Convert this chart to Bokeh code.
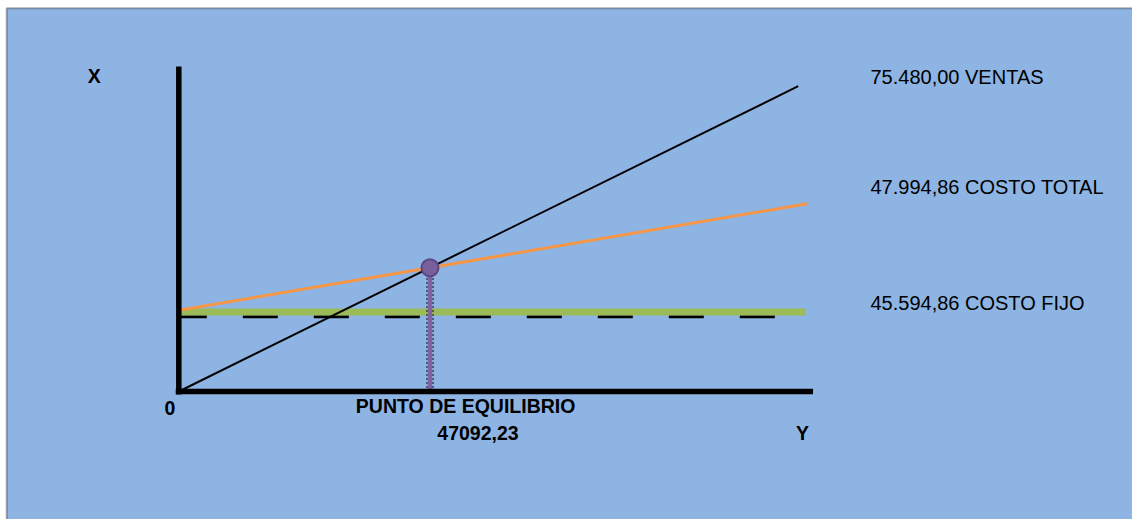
from bokeh.plotting import figure
from bokeh.models import Range1d, BoxAnnotation, Label
from bokeh.embed import file_html
from bokeh.resources import INLINE

# ---- data (schematic units) ----
ventas_q = [0, 100]
ventas = [0, 100]
ct_q = [0, 101.45]
costo_total = [26.6, 61.5]
cf_q = [0.3, 101.2]
costo_fijo = [26.0, 26.0]
cfd_q = [0, 96.6]
costo_fijo_ref = [24.47, 24.47]
eje_x = [-0.5, 102.4]
eje_y = [-1.0, 106.45]

etiquetas = ["75.480,00 VENTAS", "47.994,86 COSTO TOTAL", "45.594,86 COSTO FIJO"]
etiquetas_y = [102.9, 67.1, 28.9]
punto_texto = "PUNTO DE EQUILIBRIO"
punto_valor = "47092,23"

# break-even: intersection of ventas and costo total lines
s_v = (ventas[1] - ventas[0]) / (ventas_q[1] - ventas_q[0])
s_c = (costo_total[1] - costo_total[0]) / (ct_q[1] - ct_q[0])
be_q = (costo_total[0] - ventas[0]) / (s_v - s_c)
be_v = ventas[0] + s_v * be_q

BLUE = "#8EB4E3"
p = figure(width=1132, height=519, output_backend="svg", toolbar_location=None,
           x_range=Range1d(-28.79, 153.97), y_range=Range1d(-41.93, 128.07),
           x_axis_location=None, y_axis_location=None, min_border=0,
           background_fill_color="white", border_fill_color="white",
           outline_line_color=None)
p.grid.visible = False

p.add_layout(BoxAnnotation(left=-27.79, top=125.5, right=300, bottom=-200,
                           fill_color=BLUE, fill_alpha=1.0, line_color="black",
                           line_width=2, level="underlay"))

p.line(cfd_q, costo_fijo_ref, line_color="black", line_width=3,
       line_dash="35 36", line_dash_offset=7)
p.line(cf_q, costo_fijo, line_color="#9BBB59", line_width=7)
p.line(ct_q, costo_total, line_color="#F79646", line_width=3)
p.line(ventas_q, ventas, line_color="black", line_width=2)

p.line([be_q, be_q], [0, be_v], line_color="black", line_width=8, line_dash="1 3")
p.line([be_q, be_q], [0, be_v], line_color="#8064A2", line_width=4.5)
p.scatter([be_q], [be_v], size=17, fill_color="#77609C", line_color="#5A4785", line_width=2)

p.line([0, 0], eje_y, line_color="black", line_width=5.5, line_cap="butt")
p.line(eje_x, [0, 0], line_color="black", line_width=5.5, line_cap="butt")

FONT = "Liberation Sans"
for t, yy in zip(etiquetas, etiquetas_y):
    p.add_layout(Label(x=111.67, y=yy, text=t, text_font=FONT, text_font_size="20px",
                       text_align="left", text_baseline="alphabetic", text_color="black"))

bold = [("X", -13.66, 103.3), ("0", -1.42, -5.4), (punto_texto, 46.3, -4.8),
        (punto_valor, 48.3, -13.75), ("Y", 100.7, -13.6)]
for t, xx, yy in bold:
    p.add_layout(Label(x=xx, y=yy, text=t, text_font=FONT, text_font_size="19.5px",
                       text_font_style="bold", text_align="center",
                       text_baseline="alphabetic", text_color="black"))

open("out.html", "w").write(file_html(p, INLINE))
